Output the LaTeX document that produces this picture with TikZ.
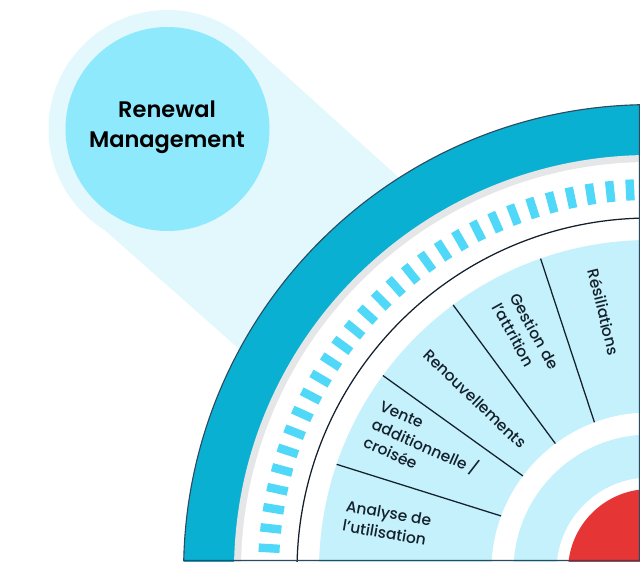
\documentclass[tikz,border=0pt]{standalone}
\usepackage{fontspec}
\setmainfont{Poppins}[UprightFont=* Medium,BoldFont=* SemiBold]
\definecolor{tealband}{HTML}{0AB0D2}
\definecolor{rimline}{HTML}{2C4A60}
\definecolor{greyband}{HTML}{E4E6E8}
\definecolor{tickblue}{HTML}{4FD8F8}
\definecolor{paleband}{HTML}{C4F1FB}
\definecolor{bubblein}{HTML}{8FE9FC}
\definecolor{bubbleout}{HTML}{E2F8FC}
\definecolor{redcore}{HTML}{E53535}
\definecolor{inkdark}{HTML}{14202C}
\tikzset{
	sectorlabel/.style={font=\fontsize{11pt}{14.2pt}\selectfont,text=inkdark,align=left,inner sep=0pt},
	spoke/.style={draw=inkdark,line width=0.9pt},
	tick/.style={draw=tickblue,line width=6pt}
}
\begin{document}
\begin{tikzpicture}[x=0.025cm,y=0.025cm]
	%origin is the centre of the rings
	\useasboundingbox (-650,10) rectangle (-10,571);
	\clip (-650,10) rectangle (-10,571);
	%bubble and its beam
	\fill[bubbleout] (-482.5,442) circle (119);
	\fill[bubbleout] (-402.1,529.7)--(-152,304)--(-313,135.5)--(-561.3,355)--cycle;
	\fill[bubblein] (-482.5,442) circle (102);
	%rings, from the outside in
	\fill[tealband] (0,0) circle (466.4);
	\fill[greyband] (0,0) circle (416);
	\fill[white] (0,0) circle (409);
	\foreach \a in {0,...,28}
	\draw[tick] ({93+2.985*\a}:371)--({93+2.985*\a}:392);
	\draw[inkdark,line width=0.9pt,fill=white] (0,0) circle (353);
	\fill[paleband] (0,0) circle (331);
	\foreach \a/\b in {109.3/110.5,126.5/126.6,143.8/143.2,161.2/159.7}
	\draw[spoke] (\a:331)--(\b:158);
	\fill[white] (0,0) circle (158.6);
	\fill[paleband] (0,0) circle (136.5);
	\fill[white] (0,0) circle (93.5);
	\fill[redcore] (0,0) circle (82);
	%outer rim along the arc and the two cut edges
	\draw[rimline,line width=0.8pt] (91.29:466.4) arc[start angle=91.29,end angle=178.71,radius=466.4]--(-10.5,10.5)--cycle;
	%texts
	\node[font=\fontsize{16pt}{21pt}\selectfont\bfseries,text=black,align=center,inner sep=0pt] (renewal) at (-483,443.5) {Renewal\\Management};
	\node[sectorlabel,rotate=-76] (resiliations) at (-46,259) {Résiliations};
	\node[sectorlabel,rotate=-61] (gestion) at (-124,235) {Gestion de\\l’attrition};
	\node[sectorlabel,rotate=-43.5] (renouvellements) at (-175,172) {Renouvellements};
	\node[sectorlabel,rotate=-24] (vente) at (-225,124) {Vente\\additionnelle /\\croisée};
	\node[sectorlabel,rotate=-10] (analyse) at (-263,48) {Analyse de\\l’utilisation};
\end{tikzpicture}
\end{document}
